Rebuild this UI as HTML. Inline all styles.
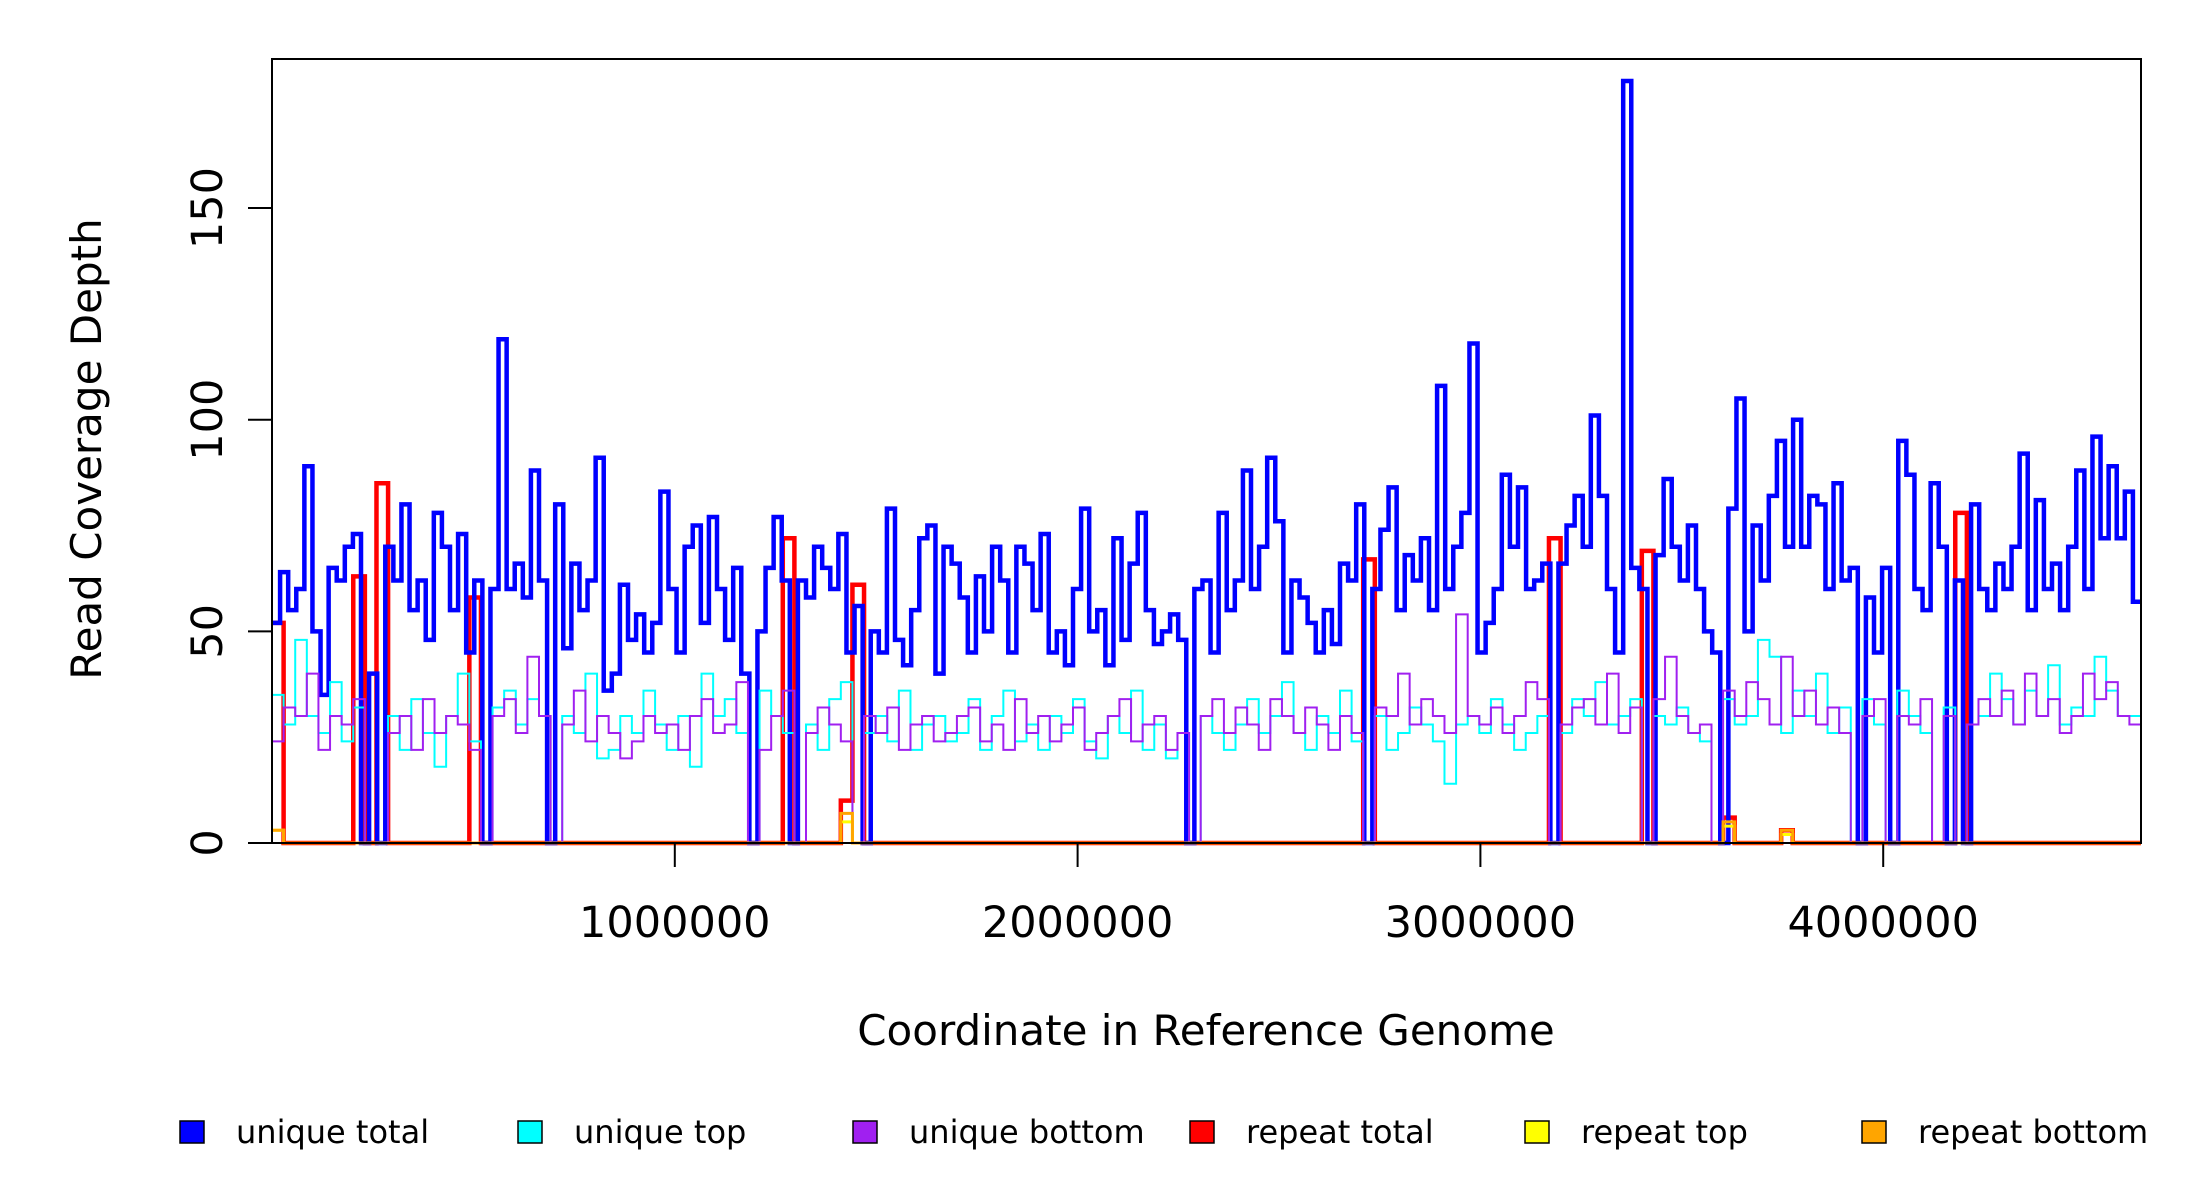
<!DOCTYPE html>
<html><head><meta charset="utf-8"><style>
body{margin:0;background:#fff}
svg{display:block}
text{font-family:"DejaVu Sans","Liberation Sans",sans-serif;fill:#000}
</style></head><body>
<svg id="chart" width="2200" height="1200" viewBox="0 0 2200 1200" xmlns="http://www.w3.org/2000/svg">
<rect x="0" y="0" width="2200" height="1200" fill="#fff"/>
<g id="series"></g>
<rect x="272" y="59" width="1869" height="784" fill="none" stroke="#000" stroke-width="2"/>
<g id="axes"></g>
<text x="1206" y="1045" font-size="42" text-anchor="middle">Coordinate in Reference Genome</text>
<text x="0" y="0" font-size="42" text-anchor="middle" transform="translate(101,449) rotate(-90)">Read Coverage Depth</text>
<g id="legend"></g>
</svg>
<script>
const unique_total=[52,64,55,60,89,50,35,65,62,70,
73,0,40,0,70,62,80,55,62,48,
78,70,55,73,45,62,0,60,119,60,
66,58,88,62,0,80,46,66,55,62,
91,36,40,61,48,54,45,52,83,60,
45,70,75,52,77,60,48,65,40,0,
50,65,77,62,0,62,58,70,65,60,
73,45,56,0,50,45,79,48,42,55,
72,75,40,70,66,58,45,63,50,70,
62,45,70,66,55,73,45,50,42,60,
79,50,55,42,72,48,66,78,55,47,
50,54,48,0,60,62,45,78,55,62,
88,60,70,91,76,45,62,58,52,45,
55,47,66,62,80,0,60,74,84,55,
68,62,72,55,108,60,70,78,118,45,
52,60,87,70,84,60,62,66,0,66,
75,82,70,101,82,60,45,180,65,60,
0,68,86,70,62,75,60,50,45,0,
79,105,50,75,62,82,95,70,100,70,
82,80,60,85,62,65,0,58,45,65,
0,95,87,60,55,85,70,0,62,0,
80,60,55,66,60,70,92,55,81,60,
66,55,70,88,60,96,72,89,72,83,57];
const unique_top=[35,28,48,30,26,38,24,32,0,0,30,22,34,26,18,30,40,24,0,32,
36,28,34,30,0,30,26,40,20,22,30,26,36,28,22,30,18,40,30,34,
26,0,36,30,26,0,28,22,34,38,0,26,30,24,36,22,28,30,24,26,
34,22,30,36,24,28,22,30,26,34,24,20,30,26,36,22,28,20,26,0,
30,26,22,28,34,26,30,38,26,22,30,26,36,24,0,30,22,26,32,28,
24,14,28,30,26,34,28,22,26,30,0,26,34,30,38,28,30,34,0,30,
28,32,26,24,0,34,28,30,48,44,26,36,30,40,26,32,0,34,28,0,
36,30,26,0,32,0,28,30,40,34,28,36,30,42,28,32,30,44,36,30,30];
const unique_bottom=[24,32,30,40,22,30,28,34,0,0,26,30,22,34,26,30,28,22,0,30,
34,26,44,30,0,28,36,24,30,26,20,24,30,26,28,22,30,34,26,28,
38,0,22,30,36,0,26,32,28,24,0,30,26,32,22,28,30,24,26,30,
32,24,28,22,34,26,30,24,28,32,22,26,30,34,24,28,30,22,26,0,
30,34,26,32,28,22,34,30,26,32,28,22,30,26,0,32,30,40,28,34,
30,26,54,30,28,32,26,30,38,34,0,28,32,34,28,40,26,32,0,34,
44,30,26,28,0,36,30,38,34,28,44,30,36,28,32,26,0,30,34,0,
30,28,34,0,30,0,28,34,30,36,28,40,30,34,26,30,40,34,38,30,28];
const repeat_total=[52,0,0,0,0,0,0,63,0,85,0,0,0,0,0,0,0,58,0,0,
0,0,0,0,0,0,0,0,0,0,0,0,0,0,0,0,0,0,0,0,
0,0,0,0,72,0,0,0,0,10,61,0,0,0,0,0,0,0,0,0,
0,0,0,0,0,0,0,0,0,0,0,0,0,0,0,0,0,0,0,0,
0,0,0,0,0,0,0,0,0,0,0,0,0,0,67,0,0,0,0,0,
0,0,0,0,0,0,0,0,0,0,72,0,0,0,0,0,0,0,69,0,
0,0,0,0,0,6,0,0,0,0,3,0,0,0,0,0,0,0,0,0,
0,0,0,0,0,78,0,0,0,0,0,0,0,0,0,0,0,0,0,0,0];
const repeat_top=[3,0,0,0,0,0,0,0,0,0,0,0,0,0,0,0,0,0,0,0,
0,0,0,0,0,0,0,0,0,0,0,0,0,0,0,0,0,0,0,0,
0,0,0,0,0,0,0,0,0,5,0,0,0,0,0,0,0,0,0,0,
0,0,0,0,0,0,0,0,0,0,0,0,0,0,0,0,0,0,0,0,
0,0,0,0,0,0,0,0,0,0,0,0,0,0,0,0,0,0,0,0,
0,0,0,0,0,0,0,0,0,0,0,0,0,0,0,0,0,0,0,0,
0,0,0,0,0,4,0,0,0,0,2,0,0,0,0,0,0,0,0,0,
0,0,0,0,0,0,0,0,0,0,0,0,0,0,0,0,0,0,0,0,0];
const repeat_bottom=[3,0,0,0,0,0,0,0,0,0,0,0,0,0,0,0,0,0,0,0,
0,0,0,0,0,0,0,0,0,0,0,0,0,0,0,0,0,0,0,0,
0,0,0,0,0,0,0,0,0,7,0,0,0,0,0,0,0,0,0,0,
0,0,0,0,0,0,0,0,0,0,0,0,0,0,0,0,0,0,0,0,
0,0,0,0,0,0,0,0,0,0,0,0,0,0,0,0,0,0,0,0,
0,0,0,0,0,0,0,0,0,0,0,0,0,0,0,0,0,0,0,0,
0,0,0,0,0,5,0,0,0,0,3,0,0,0,0,0,0,0,0,0,
0,0,0,0,0,0,0,0,0,0,0,0,0,0,0,0,0,0,0,0,0];
const x_ticks=[1000000,2000000,3000000,4000000];
const y_ticks=[0,50,100,150];
const legend_labels=["unique total","unique top","unique bottom","repeat total","repeat top","repeat bottom"];
const legend_colors=["#0000ff","#00ffff","#a020f0","#ff0000","#ffff00","#ffa500"];

const NS="http://www.w3.org/2000/svg";
const GENOME=4640000;
const xs=v=>272+(v/GENOME)*1869;
const ys=v=>843-v*4.233;
function mk(t,a){const e=document.createElementNS(NS,t);for(const k in a)e.setAttribute(k,a[k]);return e;}
const seriesG=document.getElementById('series');
function drawStep(arr,color,w,name){
  const bw=GENOME/arr.length;
  let d="M"+xs(0)+","+ys(arr[0]);
  for(let i=0;i<arr.length;i++){
    if(i>0)d+=" L"+xs(i*bw)+","+ys(arr[i]);
    d+=" L"+xs((i+1)*bw)+","+ys(arr[i]);
  }
  const p=mk('path',{d:d,fill:'none',stroke:color,'stroke-width':w,'stroke-linejoin':'miter'});
  
  
  seriesG.appendChild(p);
}
drawStep(repeat_total,"#ff0000",4.5,"series-repeat-total");
drawStep(unique_total,"#0000ff",4.5,"series-unique-total");
drawStep(unique_top,"#00ffff",2,"series-unique-top");
drawStep(unique_bottom,"#a020f0",2,"series-unique-bottom");
drawStep(repeat_top,"#ffff00",3,"series-repeat-top");
drawStep(repeat_bottom,"#ffa500",3,"series-repeat-bottom");

const axes=document.getElementById('axes');
x_ticks.forEach(v=>{
  const l=mk('line',{x1:xs(v),x2:xs(v),y1:843,y2:867,stroke:'#000','stroke-width':2});
  
  
  axes.appendChild(l);
  const t=mk('text',{x:xs(v),y:937,'font-size':43,'text-anchor':'middle'});
  
  
  t.textContent=v;axes.appendChild(t);
});
y_ticks.forEach(v=>{
  const l=mk('line',{x1:248,x2:272,y1:ys(v),y2:ys(v),stroke:'#000','stroke-width':2});
  
  
  axes.appendChild(l);
  const t=mk('text',{x:0,y:0,'font-size':43,'text-anchor':'middle',transform:`translate(222,${ys(v)}) rotate(-90)`});
  
  
  t.textContent=v;axes.appendChild(t);
});
const leg=document.getElementById('legend');
const lx=[180,518,853,1190,1525,1862];
legend_labels.forEach((lab,i)=>{
  const r=mk('rect',{x:lx[i],y:1121,width:24,height:22,fill:legend_colors[i],stroke:'#000','stroke-width':1.5});
  
  
  leg.appendChild(r);
  const t=mk('text',{x:lx[i]+56,y:1143,'font-size':32});
  
  
  t.textContent=lab;leg.appendChild(t);
});
</script>
</body></html>
